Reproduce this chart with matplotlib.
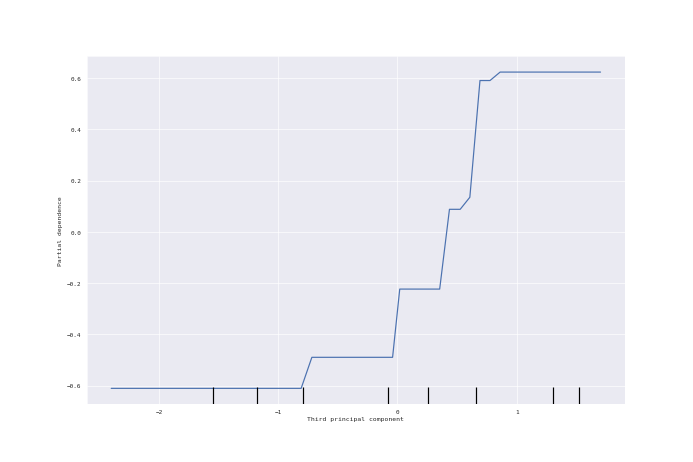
import matplotlib
matplotlib.use("Agg")
import matplotlib.pyplot as plt
import matplotlib.transforms as mtransforms
import seaborn as sns

# partial dependence curve
pc3 = [-2.40, -0.807, -0.717, -0.04, 0.02, 0.355, 0.437, 0.527, 0.608, 0.693, 0.777, 0.862, 1.704]
pdep = [-0.61, -0.61, -0.489, -0.489, -0.223, -0.223, 0.088, 0.088, 0.135, 0.59, 0.59, 0.623, 0.623]

# decile rug marks
deciles = [-1.545, -1.179, -0.789, -0.079, 0.260, 0.662, 1.303, 1.526]

sns.set_style("darkgrid")
plt.rcParams['font.family'] = ['DejaVu Sans Mono', 'DejaVu Sans']

fig = plt.figure(figsize=(12, 8), dpi=57.83)
ax = fig.add_axes([0.125, 0.125, 0.7756, 0.752])

ax.plot(pc3, pdep, color="#4C72B0", lw=1.5)

trans = mtransforms.blended_transform_factory(ax.transData, ax.transAxes)
ax.vlines(deciles, 0, 0.05, colors="k", lw=1.5, transform=trans)

ax.set_xlabel("Third principal component", fontsize=8, labelpad=2)
ax.set_ylabel("Partial dependence", fontsize=8)
ax.tick_params(labelsize=7.5)
ax.set_xticks([-2, -1, 0, 1])
ax.set_yticks([-0.6, -0.4, -0.2, 0.0, 0.2, 0.4, 0.6])

fig.savefig("out.png", dpi=57.83)
